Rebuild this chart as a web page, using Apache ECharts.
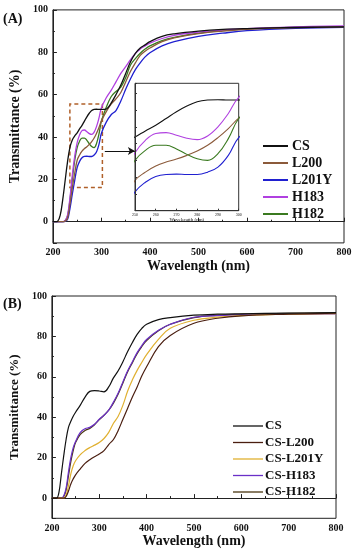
<!DOCTYPE html>
<html><head><meta charset="utf-8">
<script src="https://cdn.jsdelivr.net/npm/echarts@6/dist/echarts.min.js"></script>
<style>html,body{margin:0;padding:0;background:#fff}#c{width:356px;height:550px}</style>
</head><body><div id="c"></div>
<script>
// Panel A data
const xA = [200,205,210,215,220,225,230,235,240,245,250,255,260,265,270,275,280,285,290,295,300,310,320,330,340,350,360,370,380,390,400,425,450,500,550,600,700,800];
const A_CS    = [0,0,0.3,3,10,19,28,35,38.6,40.5,42,43.8,45.5,47.5,49.5,51.2,52.5,53,53.1,53,53,53.2,56,60,64.5,70,75.5,79.5,82,83.5,85,87.5,88.7,90,90.8,91.2,91.7,92];
const A_L200  = [0,0,0,0,0,0.3,1.5,8,16,23,29,31.5,33.3,34.5,35.4,36.5,37.8,39.5,41.8,44.5,47.6,52,55.5,58,61,66,71,75,78.5,80.5,82,85,86.8,88.8,90,90.8,91.6,92];
const A_L201Y = [0,0,0,0,0,0.2,1,6,13,19.5,25.6,28.5,30.2,30.8,30.9,30.8,30.8,31.5,33,36.5,41.8,47,50.5,52.5,57,62.5,67.5,71.8,75,77.8,79.8,83,85,87.5,89,90.2,91.3,91.8];
const A_H183  = [0,0,0,0,0,0.5,3,11,22,31,37.3,41,43,43.3,42.5,41.6,41.2,42.3,45,49,53.8,58.5,62,66,70,73.2,76.5,79.5,81.5,83,84.3,86.5,88,89.5,90.5,91.2,92,92.5];
const A_H182  = [0,0,0,0,0,0.4,2.5,10,20,29,35,38,39.5,39.5,38.4,36.8,35.5,35,37,41.5,47.5,54,59,61.5,63.5,68,74,77,79.5,81.5,83,85.5,87,89,90.2,91,91.8,92];
const namesA = ['CS','L200','L201Y','H183','H182'];
// Panel B data
const xB = [200,205,210,215,220,225,230,235,240,245,250,260,270,280,290,300,310,320,330,340,350,360,370,380,390,400,425,450,500,550,600,700,800];
const B_CS    = [0,0,0,3,12,21,29,35,38,40.5,42.5,46,50,52.8,53.2,53,52.6,55,59.5,63,67.5,72.5,77,81,84,86,88.3,89.3,90.5,91,91.2,91.5,91.8];
const B_L200  = [0,0,0,0,0,0,0.8,3.5,7,9.5,11.5,14.5,17.2,19,20.5,21.8,23.5,26.5,29,33.5,39,44.5,50,55,60.5,65,75,80.5,86.5,89,90.2,91,91.5];
const B_L201Y = [0,0,0,0,0,0,1.5,6,12,16,18.5,21.5,23.5,25,26.2,27.5,29.5,32.5,37,40.5,46,53,58.5,63.2,67.2,71,78.5,84,88,89.5,90.3,91,91.3];
const B_H183  = [0,0,0,0,0,1,5,13,20,25,28,32.5,34.3,35,36.5,39,41,43.5,47.5,52,57.5,63,67.5,72,75.5,78.5,83,86,89.5,90.3,90.7,91,91.2];
const B_H182  = [0,0,0,0,0,0.8,4,11,18,23.5,27.5,31.5,33.5,34.5,36.3,38.8,41,43.5,47,51.5,57,62.5,67,71.5,75,78,82.8,86,89.3,90.5,91,91.4,91.7];
const namesB = ['CS','CS-L200','CS-L201Y','CS-H183','CS-H182'];

const colA = ['#111111','#8b5a3a','#2020d0','#b040e0','#3a7a20'];
const colB = ['#111111','#4a1e10','#e0b030','#6a30c8','#4a3510'];
const seriesA = [A_CS,A_L200,A_L201Y,A_H183,A_H182];
const seriesB = [B_CS,B_L200,B_L201Y,B_H183,B_H182];

const F = 'Liberation Serif';
function pair(xs, ys){ return xs.map((x,i)=>[x,ys[i]]); }
function xAx(gi, min, max, fs, name, nfs, gap){
  return {gridIndex:gi,type:'value',min:min,max:max,interval:100,
    name:name,nameLocation:'middle',nameGap:gap,
    nameTextStyle:{fontFamily:F,fontWeight:'bold',fontSize:nfs,color:'#111'},
    axisLine:{lineStyle:{color:'#222',width:1}},
    axisTick:{inside:true,length:4,lineStyle:{color:'#222'}},
    minorTick:{show:true,splitNumber:2,length:2,lineStyle:{color:'#222'}},
    axisLabel:{fontFamily:F,fontWeight:'bold',fontSize:fs,color:'#111',margin:5},
    splitLine:{show:false}};
}
function yAx(gi, fs, nfs, gap){
  return {gridIndex:gi,type:'value',min:-10,max:100,splitNumber:5,
    name:'Transmittance (%)',nameLocation:'middle',nameGap:gap,
    nameTextStyle:{fontFamily:F,fontWeight:'bold',fontSize:nfs,color:'#111'},
    axisLine:{lineStyle:{color:'#222',width:1}},
    axisTick:{inside:true,length:4,lineStyle:{color:'#222'}},
    minorTick:{show:true,splitNumber:2,length:2,lineStyle:{color:'#222'}},
    axisLabel:{fontFamily:F,fontWeight:'bold',fontSize:fs,color:'#111',margin:5,
      formatter:v=> (v<0? '' : v)},
    splitLine:{show:false}};
}
const series = [];
namesA.forEach((n,i)=>{
  const s = {name:n,type:'line',xAxisIndex:0,yAxisIndex:0,data:pair(xA,seriesA[i]),
    symbol:'none',smooth:0.4,lineStyle:{color:colA[i],width:1.3},itemStyle:{color:colA[i]},z:5-i};
  if(i===0){
    s.markArea={silent:true,itemStyle:{color:'rgba(0,0,0,0)',borderColor:'#b0602a',borderWidth:1.5,borderType:[4,3]},
      data:[[{coord:[235,16.2]},{coord:[302,55.6]}]]};
    s.markLine={silent:true,symbol:['none','arrow'],symbolSize:[6,7],label:{show:false},
      lineStyle:{color:'#111',width:1,type:'solid'},
      data:[[{coord:[307,33.4]},{coord:[369,33.4]}]]};
  }
  series.push(s);
});
namesA.forEach((n,i)=>{
  series.push({name:n+' ',type:'line',xAxisIndex:1,yAxisIndex:1,data:pair(xA,seriesA[i]),
    symbol:'none',smooth:0.4,clip:true,lineStyle:{color:colA[i],width:1.1},itemStyle:{color:colA[i]},z:20});
});
namesB.forEach((n,i)=>{
  series.push({name:n+(i===0?'\u200b':''),type:'line',xAxisIndex:2,yAxisIndex:2,data:pair(xB,seriesB[i]),
    symbol:'none',smooth:0.4,lineStyle:{color:colB[i],width:1.2},itemStyle:{color:colB[i]},z:5-i});
});

const option = {
  animation:false,
  backgroundColor:'#fff',
  grid:[
    {left:43.3,top:9.9,width:300.7,height:233,show:true,borderColor:'#222',borderWidth:1,backgroundColor:'transparent'},
    {left:135,top:83.3,width:103.7,height:127.4,show:true,borderColor:'#333',borderWidth:1,backgroundColor:'#fff',z:10},
    {left:42.7,top:296,width:293.3,height:222.3,show:true,borderColor:'#222',borderWidth:1,backgroundColor:'transparent'}
  ],
  xAxis:[
    xAx(0,200,800,10,'Wavelength (nm)',14,16),
    {gridIndex:1,type:'value',min:250,max:300,interval:10,z:21,
      name:'Wavelength (nm)',nameLocation:'middle',nameGap:6,
      nameTextStyle:{fontFamily:F,fontSize:5,color:'#111'},
      axisLine:{lineStyle:{color:'#333',width:1}},
      axisTick:{inside:true,length:2,lineStyle:{color:'#333'}},
      axisLabel:{fontFamily:F,fontSize:4,color:'#111',margin:2},
      splitLine:{show:false}},
    xAx(2,200,800,10,'Wavelength (nm)',14,16)
  ],
  yAxis:[
    yAx(0,10,14,22),
    {gridIndex:1,type:'value',min:20,max:58,interval:5,z:21,
      axisLine:{lineStyle:{color:'#333',width:1}},
      axisTick:{inside:true,length:2,lineStyle:{color:'#333'}},
      axisLabel:{show:false},splitLine:{show:false}},
    yAx(2,10,13,22)
  ],
  legend:[
    {data:namesA,left:258,top:134,orient:'vertical',itemWidth:25,itemHeight:14,itemGap:3,
      selectedMode:false,icon:'path://M0,6 L25,6 L25,8 L0,8 Z',
      textStyle:{fontFamily:F,fontWeight:'bold',fontSize:14,color:'#111',padding:[0,0,0,-1]}},
    {data:namesB.map((n,i)=>n+(i===0?'\u200b':'')),left:228,top:414.5,orient:'vertical',itemWidth:30,itemHeight:13,itemGap:3.5,
      selectedMode:false,icon:'path://M0,6 L30,6 L30,7.3 L0,7.3 Z',
      formatter:n=>n.replace('\u200b',''),
      textStyle:{fontFamily:F,fontWeight:'bold',fontSize:13,color:'#111',padding:[0,0,0,-3]}}
  ],
  graphic:[
    {type:'text',left:3,top:12,style:{text:'(A)',font:'bold 14px "Liberation Serif"',fill:'#111'}},
    {type:'text',left:3,top:297,style:{text:'(B)',font:'bold 14px "Liberation Serif"',fill:'#111'}}
  ],
  series:series
};
const chart = echarts.init(document.getElementById('c'),null,{renderer:'canvas'});
chart.setOption(option);
</script></body></html>
